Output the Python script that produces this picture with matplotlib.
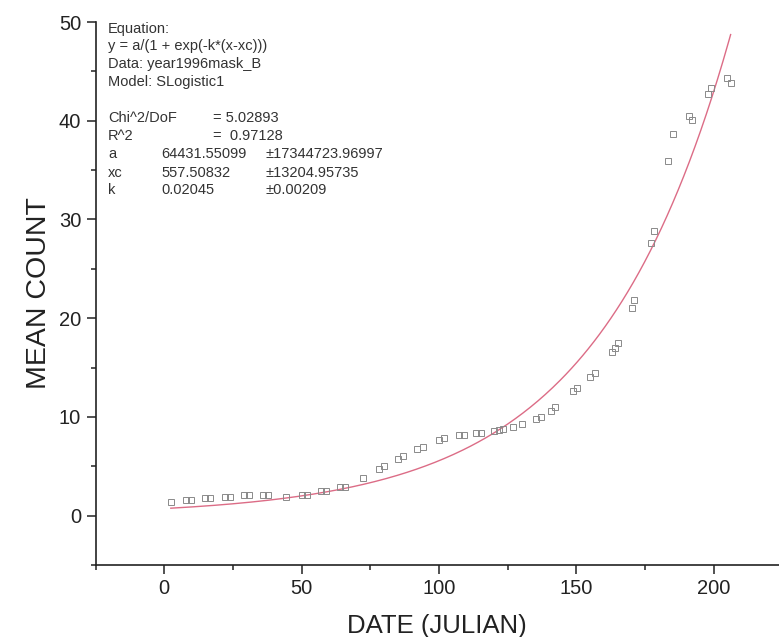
import numpy as np
import matplotlib
matplotlib.use('Agg')
import matplotlib.pyplot as plt
from matplotlib.ticker import MultipleLocator

plt.rcParams['font.family'] = ['Liberation Sans', 'DejaVu Sans']

julian = [2.4, 8.0, 9.6, 14.9, 16.7, 22.2, 24.0, 29.2, 31.0, 36.1, 37.9, 44.4,
          50.1, 51.9, 57.0, 58.8, 63.8, 65.8, 72.5, 78.3, 80.0, 85.2, 87.0,
          92.1, 94.1, 100.1, 101.9, 107.4, 109.2, 113.4, 115.1, 120.0, 121.8,
          123.4, 127.0, 130.1, 135.2, 137.1, 140.7, 142.2, 148.8, 150.1, 154.8,
          156.8, 163.0, 164.0, 165.0, 170.1, 171.0, 177.1, 178.1, 183.2, 185.1,
          190.9, 192.0, 198.0, 198.9, 204.8, 206.1]
mean_count = [1.35, 1.6, 1.6, 1.8, 1.8, 1.9, 1.9, 2.05, 2.05, 2.05, 2.05, 1.9,
              2.05, 2.05, 2.45, 2.45, 2.95, 2.95, 3.85, 4.75, 5.0, 5.75, 6.0,
              6.75, 7.0, 7.7, 7.85, 8.2, 8.2, 8.35, 8.35, 8.6, 8.65, 8.8, 9.0,
              9.25, 9.75, 10.0, 10.65, 11.05, 12.6, 12.9, 14.05, 14.5, 16.6,
              16.95, 17.45, 21.0, 21.8, 27.6, 28.8, 35.9, 38.7, 40.5, 40.1,
              42.75, 43.3, 44.3, 43.8]

# SLogistic1 fit parameters printed on the chart
fit_a = 64431.55099
fit_xc = 557.50832
fit_k = 0.02045
fit_x = np.linspace(2.4, 206.1, 300)
fit_y = fit_a / (1 + np.exp(-fit_k * (fit_x - fit_xc)))

fig = plt.figure(figsize=(7.79, 6.37), dpi=100)
ax = fig.add_axes([0.1226, 0.113, 0.8774, 0.8524])

ax.plot(fit_x, fit_y, color='#dc6c86', lw=1.0)
ax.plot(julian, mean_count, ls='none', marker='s', ms=4.2, mfc='none',
        mec='#8a8a8a', mew=0.7)

ax.set_xlim(-25, 223.7)
ax.set_ylim(-5, 50)
ax.xaxis.set_minor_locator(MultipleLocator(25))
ax.yaxis.set_minor_locator(MultipleLocator(5))
ax.set_xticks([0, 50, 100, 150, 200])
ax.set_yticks([0, 10, 20, 30, 40, 50])

for s in ['top', 'right']:
    ax.spines[s].set_visible(False)
for s in ['left', 'bottom']:
    ax.spines[s].set_linewidth(1.2)
    ax.spines[s].set_color('#222222')

ax.tick_params(which='major', direction='out', length=6.3, width=1.1,
               labelsize=14.5, colors='#222222', pad=4)
ax.tick_params(which='minor', direction='out', length=3.6, width=1.1,
               colors='#222222')

ax.set_xlabel('DATE (JULIAN)', fontsize=18.5, color='#222222', labelpad=11)
ax.set_ylabel('MEAN COUNT', fontsize=20.5, color='#222222', labelpad=5)

# fit report box
info_left = ['Equation:', 'y = a/(1 + exp(-k*(x-xc)))', 'Data: year1996mask_B',
             'Model: SLogistic1']
lbl_rows = ['Chi^2/DoF', 'R^2', 'a', 'xc', 'k']
val_rows = ['', '', '64431.55099', '557.50832', '0.02045']
eq_rows = ['= 5.02893', '=  0.97128', '', '', '']
err_rows = ['', '', '\u00b117344723.96997', '\u00b113204.95735', '\u00b10.00209']

W, H = 779.0, 637.0
tkw = dict(fontsize=10.5, color='#333333', va='center', ha='left')
for i, t in enumerate(info_left):
    fig.text(108 / W, 1 - (28.5 + 17.7 * i) / H, t, **tkw)
for i in range(len(lbl_rows)):
    yy = 1 - (118.5 + 18.0 * i) / H
    fig.text(108 / W, yy, lbl_rows[i], **tkw)
    if val_rows[i]:
        fig.text(161 / W, yy, val_rows[i], **tkw)
    if eq_rows[i]:
        fig.text(213 / W, yy, eq_rows[i], **tkw)
    if err_rows[i]:
        fig.text(265 / W, yy, err_rows[i], **tkw)

fig.savefig('out.png', dpi=100)
